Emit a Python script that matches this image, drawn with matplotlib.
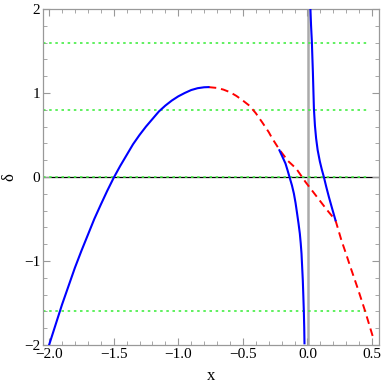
import numpy as np
import matplotlib.pyplot as plt
from matplotlib.ticker import MultipleLocator

# stable branch (parabola, left)
blue1_x = [-2.00, -1.95, -1.90, -1.85, -1.80, -1.75, -1.70, -1.65, -1.60, -1.55, -1.50,
           -1.45, -1.40, -1.35, -1.30, -1.25, -1.20, -1.15, -1.10, -1.05, -1.00,
           -0.95, -0.90, -0.85, -0.80, -0.766]
blue1_y = [-2.00, -1.76, -1.52, -1.30, -1.08, -0.88, -0.69, -0.50, -0.33, -0.165, -0.01,
           0.13, 0.26, 0.39, 0.50, 0.60, 0.69, 0.78, 0.85, 0.91, 0.96,
           1.00, 1.035, 1.057, 1.068, 1.07]

# stable branch left of the pole
blue2_x = [-0.217, -0.195, -0.170, -0.155, -0.139, -0.120, -0.105, -0.092, -0.080,
           -0.069, -0.059, -0.052, -0.046, -0.041, -0.036, -0.032, -0.028, -0.025, -0.023]
blue2_y = [0.318, 0.245, 0.16, 0.085, 0.0, -0.10, -0.198, -0.31, -0.436,
           -0.555, -0.674, -0.79, -0.912, -1.07, -1.23, -1.41, -1.60, -1.79, -1.98]

# stable branch right of the pole
blue3_x = [0.023, 0.028, 0.034, 0.038, 0.042, 0.046, 0.050, 0.058, 0.067, 0.079,
           0.096, 0.111, 0.127, 0.146, 0.166, 0.190, 0.217]
blue3_y = [2.0, 1.80, 1.615, 1.43, 1.25, 1.03, 0.814, 0.61, 0.46, 0.32,
           0.185, 0.09, 0.0, -0.12, -0.238, -0.37, -0.515]

# unstable branch
red_x = [-0.766, -0.70, -0.65, -0.60, -0.55, -0.50, -0.45, -0.40, -0.35, -0.30, -0.273,
         -0.217, -0.15, -0.087, -0.015, 0.05, 0.10, 0.15, 0.217, 0.263, 0.30, 0.33,
         0.39, 0.447, 0.506]
red_y = [1.07, 1.06, 1.04, 1.01, 0.965, 0.91, 0.85, 0.76, 0.65, 0.535, 0.46,
         0.325, 0.19, 0.10, -0.06, -0.19, -0.29, -0.39, -0.515, -0.754, -0.92, -1.06,
         -1.33, -1.60, -1.90]

levels = [1.6, 0.8, 0.0, -1.6]
level_x = [-2.05, 0.475]
pole_x = 0.002

plt.rcParams['font.family'] = ['Liberation Serif', 'DejaVu Serif']
plt.rcParams['mathtext.fontset'] = 'stix'

fig = plt.figure(figsize=(3.82, 3.84), dpi=100)
ax = fig.add_axes([0.1126, 0.1016, 0.8796, 0.875])

ax.axhline(0, color='black', linewidth=0.9, zorder=1)
ax.axvline(pole_x, color='#aaaaaa', linewidth=1.8, zorder=1)
for lv in levels:
    ax.plot(level_x, [lv, lv], color='#44ee44', linestyle=(0, (1.5, 2.2)),
            linewidth=1.2, zorder=2)

ax.plot(red_x, red_y, color='red', linestyle=(0, (4, 2.5)), linewidth=1.4, zorder=3)
for bx, by in [(blue1_x, blue1_y), (blue2_x, blue2_y), (blue3_x, blue3_y)]:
    ax.plot(bx, by, color='blue', linewidth=1.5, zorder=4)

ax.set_xlim(-2.047, 0.554)
ax.set_ylim(-2, 2)
ax.xaxis.set_major_locator(MultipleLocator(0.5))
ax.xaxis.set_minor_locator(MultipleLocator(0.1))
ax.yaxis.set_major_locator(MultipleLocator(1))
ax.yaxis.set_minor_locator(MultipleLocator(0.2))
ax.xaxis.set_major_formatter(plt.FuncFormatter(lambda v, p: f"{v:.1f}".replace('-', '\u2212')))
ax.yaxis.set_major_formatter(plt.FuncFormatter(lambda v, p: f"{v:.0f}".replace('-', '\u2212')))
ax.tick_params(which='both', direction='in', top=True, right=True, color='#999999',
               labelsize=11, pad=2)
ax.tick_params(which='major', length=5, width=0.8)
ax.tick_params(which='minor', length=3, width=0.6)
for s in ax.spines.values():
    s.set_color('#999999')
    s.set_linewidth(0.9)

ax.set_xlabel('x', fontsize=12, labelpad=5)
ax.set_ylabel('\u03b4', fontsize=12, labelpad=5)

fig.savefig('out.png', dpi=100)
